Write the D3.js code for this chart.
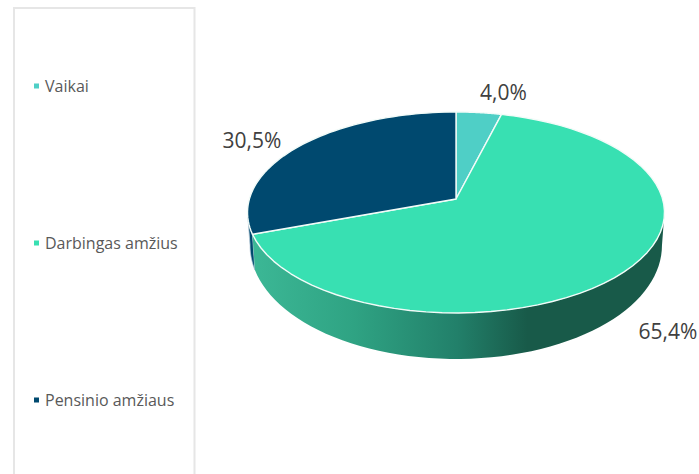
<!DOCTYPE html>
<html><head><meta charset="utf-8">
<script src="https://cdn.jsdelivr.net/npm/d3@7"></script>
<style>html,body{margin:0;background:#fff}svg{display:block}text{font-family:"Open Sans",sans-serif}</style>
</head><body><svg id="c" width="699" height="474"></svg>
<script>
const categories = ["Vaikai", "Darbingas amžius", "Pensinio amžiaus"];
const values = [4.0, 65.4, 30.5];
const valueLabels = ["4,0%", "65,4%", "30,5%"];
const colors = ["#4fcfc6", "#38e0b2", "#00496f"];

const svg = d3.select("#c");
// legend frame
svg.append("path").attr("d","M14,474V8H194.5V474").attr("fill","none").attr("stroke","#e6e6e6").attr("stroke-width",2);
// legend
const ly = d3.scalePoint().domain(categories).range([86,400]);
categories.forEach((c,i)=>{
  svg.append("rect").attr("x",34).attr("y",ly(c)-2.5).attr("width",5).attr("height",5).attr("fill",colors[i]);
  svg.append("text").attr("x",45).attr("y",ly(c)+5.5).attr("font-size",16).attr("fill","#595959").text(c);
});
// projection of the tilted disc
const cx=456, apexY=199, C=0.134, K=206.6, A=-72, depth=46;
const P=(a,dy=0)=>{
  const u=Math.cos(a),s=Math.sin(a),w=1+C*u;
  const shrink=dy?0.988:1;
  return [cx+(K*s/w)*shrink,(apexY+A*u)/w+dy*(1-0.5*u)/1.5];
};
const line=d3.line();
const arcPts=(a0,a1,dy=0)=>d3.range(0,61).map(i=>P(a0+(a1-a0)*i/60,dy));
const pie=d3.pie().sort(null).value(d=>d)(values);
const defs=svg.append("defs");
const grad=defs.append("linearGradient").attr("id","wall").attr("gradientUnits","userSpaceOnUse").attr("x1",250).attr("x2",664).attr("y1",0).attr("y2",0);
[[0,"#3cb896"],[0.25,"#2fa383"],[0.5,"#22806a"],[0.67,"#185a49"],[1,"#185a49"]].forEach(s=>grad.append("stop").attr("offset",s[0]).attr("stop-color",s[1]));
const aRight=Math.acos(-C), aLeft=2*Math.PI-aRight;
// walls
const g1=pie[1];
svg.append("path").attr("d",line([...arcPts(g1.endAngle,aLeft),...arcPts(aLeft,g1.endAngle,depth)])+"Z").attr("fill",colors[2]).attr("stroke","#b9ccd8").attr("stroke-width",.8);
svg.append("path").attr("d",line([...arcPts(aRight,g1.endAngle),...arcPts(g1.endAngle,aRight,depth)])+"Z").attr("fill","url(#wall)");
// top faces
pie.forEach((d,i)=>{
  svg.append("path").attr("d",line([[cx,apexY],...arcPts(d.startAngle,d.endAngle)])+"Z").attr("fill",colors[i]).attr("stroke","#f2fbf8").attr("stroke-width",1.4).attr("stroke-linejoin","round");
});
// labels
const lx=[503.5,668,252], lyy=[100,339,148];
valueLabels.forEach((t,i)=>svg.append("text").attr("x",lx[i]).attr("y",lyy[i]).attr("text-anchor","middle").attr("font-size",21).attr("fill","#404040").text(t));
</script></body></html>
